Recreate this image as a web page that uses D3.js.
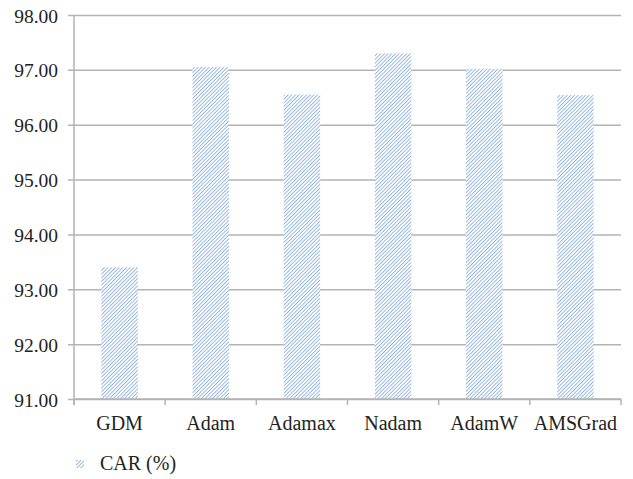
<!DOCTYPE html>
<html>
<head>
<meta charset="utf-8">
<script src="https://cdn.jsdelivr.net/npm/d3@7"></script>
<style>
  html, body { margin: 0; padding: 0; background: #fff; }
  svg text { font-family: "Liberation Serif", "Times New Roman", serif; fill: #231f20; }
</style>
</head>
<body>
<svg id="chart" width="633" height="479"></svg>
<script>
// Optimizer comparison: CAR (%) per training algorithm
const categories = ["GDM", "Adam", "Adamax", "Nadam", "AdamW", "AMSGrad"];
const carValues = [93.40, 97.05, 96.55, 97.30, 97.02, 96.54];
const yTicks = [91, 92, 93, 94, 95, 96, 97, 98];
const seriesName = "CAR (%)";

const svg = d3.select("#chart");
const margin = { left: 74, top: 15 };
const plotRight = 621;

const x = d3.scaleBand()
  .domain(categories)
  .range([margin.left, plotRight])
  .paddingInner(0.6)
  .paddingOuter(0.3);

const y = d3.scaleLinear()
  .domain([91, 98])
  .range([399, margin.top]);

// Hatch fill used for bars and legend swatch
const defs = svg.append("defs");
const pat = defs.append("pattern")
  .attr("id", "hatch")
  .attr("patternUnits", "userSpaceOnUse")
  .attr("width", 2.6)
  .attr("height", 2.6)
  .attr("patternTransform", "rotate(45)");
pat.append("rect").attr("width", 2.6).attr("height", 2.6).attr("fill", "#ffffff");
pat.append("line")
  .attr("x1", 0).attr("y1", 0).attr("x2", 0).attr("y2", 2.6)
  .attr("stroke", "#6f9dd9").attr("stroke-width", 1.4);

// Horizontal gridlines with small left ticks
const yAxis = d3.axisLeft(y)
  .tickValues(yTicks)
  .tickSize(-(plotRight - margin.left))
  .tickSizeOuter(0)
  .tickFormat(d3.format(".2f"));

const gy = svg.append("g")
  .attr("transform", `translate(${margin.left},0)`)
  .call(yAxis);
gy.select(".domain").remove();
gy.selectAll(".tick line")
  .attr("x1", -6)
  .attr("stroke", "#b3b3b3")
  .attr("stroke-width", 1.5);
gy.selectAll(".tick text")
  .attr("x", -16)
  .attr("font-size", 19.5)
  .attr("dy", "0.36em");

// Left axis line
svg.append("line")
  .attr("x1", margin.left).attr("x2", margin.left)
  .attr("y1", y(98)).attr("y2", y(91) + 6)
  .attr("stroke", "#b3b3b3").attr("stroke-width", 1.5);

// Bars
svg.append("g").selectAll("rect")
  .data(categories.map((c, i) => ({ c, v: carValues[i] })))
  .join("rect")
  .attr("x", d => x(d.c))
  .attr("width", x.bandwidth())
  .attr("y", d => y(d.v))
  .attr("height", d => y(91) - y(d.v))
  .attr("fill", "url(#hatch)");

// Bottom axis with category boundary ticks
const boundaries = d3.range(categories.length + 1)
  .map(i => margin.left + i * (plotRight - margin.left) / categories.length);
const gx = svg.append("g");
gx.append("line")
  .attr("x1", margin.left).attr("x2", plotRight)
  .attr("y1", y(91)).attr("y2", y(91))
  .attr("stroke", "#b3b3b3").attr("stroke-width", 1.5);
gx.selectAll("line.tk")
  .data(boundaries)
  .join("line")
  .attr("class", "tk")
  .attr("x1", d => d).attr("x2", d => d)
  .attr("y1", y(91)).attr("y2", y(91) + 6)
  .attr("stroke", "#b3b3b3").attr("stroke-width", 1.5);
gx.selectAll("text")
  .data(categories)
  .join("text")
  .attr("x", d => x(d) + x.bandwidth() / 2)
  .attr("y", 430)
  .attr("text-anchor", "middle")
  .attr("font-size", 20)
  .text(d => d);

// Legend
const lg = svg.append("g");
lg.append("rect")
  .attr("x", 76).attr("y", 460)
  .attr("width", 8).attr("height", 8)
  .attr("fill", "url(#hatch)");
lg.append("text")
  .attr("x", 100).attr("y", 470)
  .attr("font-size", 20)
  .text(seriesName);
</script>
</body>
</html>
